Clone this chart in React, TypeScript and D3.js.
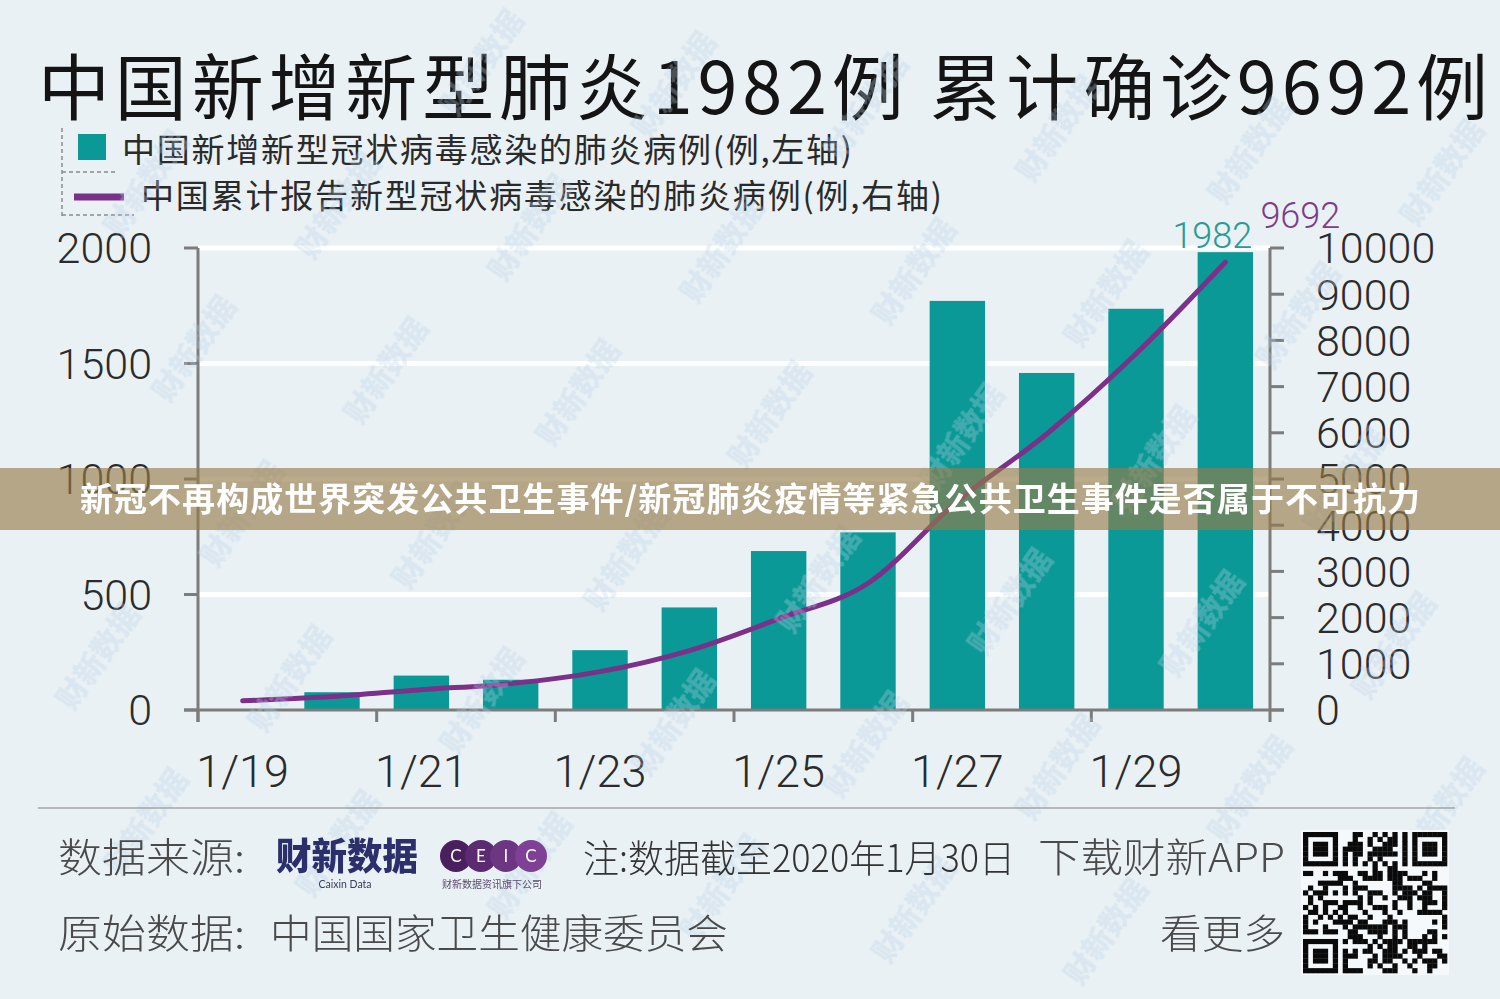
import React, { useMemo } from "react";
import * as d3 from "d3";

// Daily data, 19–30 January 2020
const dates = ["1/19", "1/20", "1/21", "1/22", "1/23", "1/24", "1/25", "1/26", "1/27", "1/28", "1/29", "1/30"];
const newCases: (number | null)[] = [null, 77, 149, 131, 259, 444, 688, 769, 1771, 1459, 1737, 1982];
const cumulativeCases = [198, 291, 440, 571, 830, 1287, 1975, 2744, 4515, 5974, 7711, 9692];

const leftTicks = [0, 500, 1000, 1500, 2000];
const rightTicks = [0, 1000, 2000, 3000, 4000, 5000, 6000, 7000, 8000, 9000, 10000];
const xTickLabels = ["1/19", "1/21", "1/23", "1/25", "1/27", "1/29"];

const W = 1500;
const H = 999;
const CJK = "'Noto Sans CJK SC', 'Noto Sans', sans-serif";
const NUM = "Roboto, 'Liberation Sans', sans-serif";
const BG = "#e9f1f5";
const TEAL = "#0a9996";
const PURPLE = "#7b3089";
const AXIS = "#7c7c7c";

// Pseudo QR pattern, deterministic
function qrModules(n: number): boolean[][] {
  let s = 20200130;
  const next = () => {
    s = (s * 1103515245 + 12345) % 2147483648;
    return s / 2147483648;
  };
  const m: boolean[][] = [];
  for (let r = 0; r < n; r++) {
    m.push([]);
    for (let c = 0; c < n; c++) m[r].push(next() < 0.5);
  }
  const finder = (r0: number, c0: number) => {
    for (let r = -1; r <= 7; r++)
      for (let c = -1; c <= 7; c++) {
        const rr = r0 + r, cc = c0 + c;
        if (rr < 0 || cc < 0 || rr >= n || cc >= n) continue;
        const inRing = r >= 0 && r <= 6 && c >= 0 && c <= 6;
        const edge = r === 0 || r === 6 || c === 0 || c === 6;
        const core = r >= 2 && r <= 4 && c >= 2 && c <= 4;
        m[rr][cc] = inRing && (edge || core);
      }
  };
  finder(0, 0);
  finder(0, n - 7);
  finder(n - 7, 0);
  for (let i = 8; i < n - 8; i++) {
    m[6][i] = i % 2 === 0;
    m[i][6] = i % 2 === 0;
  }
  return m;
}

export default function App() {
  const x = useMemo(() => d3.scaleBand<string>().domain(dates).range([198, 1270]).padding(0), []);
  const yL = useMemo(() => d3.scaleLinear().domain([0, 2000]).range([710, 248]), []);
  const yR = useMemo(() => d3.scaleLinear().domain([0, 10000]).range([710, 248]), []);
  const barW = x.bandwidth() * 0.62;
  const cx = (d: string) => (x(d) as number) + x.bandwidth() / 2;

  const linePath = d3
    .line<number>()
    .x((_, i) => cx(dates[i]))
    .y((v) => yR(v))
    .curve(d3.curveMonotoneX)(cumulativeCases) as string;

  const lastIdx = dates.length - 1;
  const lastDate = dates[lastIdx];

  // watermark lattice, kept inside the canvas
  const marks: { x: number; y: number }[] = [];
  for (let j = -3; j < 9; j++) {
    for (let i = -2; i < 10; i++) {
      const px = 100 + 192 * i + 48 * j;
      const py = 20 + 22 * i + 165 * j;
      if (px > 55 && px < W - 55 && py > 60 && py < H - 60) marks.push({ x: px, y: py });
    }
  }

  const qrN = 29;
  const qr = qrModules(qrN);
  const qrX = 1303, qrY = 832, qrS = 144 / qrN;

  return (
    <svg
      width={W}
      height={H}
      viewBox={`0 0 ${W} ${H}`}
      style={{ position: "absolute", left: 0, top: 0, display: "block" }}
    >
      <rect x={0} y={0} width={W} height={H} fill={BG} />

      {/* gridlines */}
      {leftTicks.slice(1).map((t) => (
        <line key={"g" + t} x1={198} x2={1270} y1={yL(t)} y2={yL(t)} stroke="#ffffff" strokeWidth={5} />
      ))}

      {/* title */}
      <text x={38} y={114} fontFamily={CJK} fontSize={72} fill="#141414" textLength={1450} lengthAdjust="spacing">
        中国新增新型肺炎1982例 累计确诊9692例
      </text>

      {/* legend */}
      <g>
        <line x1={62} x2={62} y1={128} y2={216} stroke="#8a8a8a" strokeWidth={1.5} strokeDasharray="4 3" />
        <line x1={62} x2={116} y1={172} y2={172} stroke="#8a8a8a" strokeWidth={1.5} strokeDasharray="4 3" />
        <line x1={62} x2={134} y1={215} y2={215} stroke="#8a8a8a" strokeWidth={1.5} strokeDasharray="4 3" />
        <rect x={78} y={134} width={28} height={26} fill={TEAL} />
        <text x={122} y={162} fontFamily={CJK} fontSize={33} fill="#2a2a2a" textLength={730} lengthAdjust="spacing">
          中国新增新型冠状病毒感染的肺炎病例(例,左轴)
        </text>
        <line x1={74} x2={124} y1={197} y2={197} stroke={PURPLE} strokeWidth={7} />
        <text x={141} y={208} fontFamily={CJK} fontSize={33} fill="#2a2a2a" textLength={801} lengthAdjust="spacing">
          中国累计报告新型冠状病毒感染的肺炎病例(例,右轴)
        </text>
      </g>

      {/* bars */}
      {dates.map((d, i) =>
        newCases[i] == null ? null : (
          <rect
            key={"b" + d}
            x={cx(d) - barW / 2}
            y={yL(newCases[i] as number)}
            width={barW}
            height={yL(0) - yL(newCases[i] as number)}
            fill={TEAL}
          />
        )
      )}

      {/* cumulative line */}
      <path d={linePath} fill="none" stroke={PURPLE} strokeWidth={5} strokeLinecap="round" />

      {/* axes */}
      <line x1={198} x2={198} y1={yL(2000)} y2={722} stroke={AXIS} strokeWidth={3} />
      <line x1={1270} x2={1270} y1={yR(10000)} y2={722} stroke={AXIS} strokeWidth={3} />
      <line x1={184} x2={1284} y1={yL(0)} y2={yL(0)} stroke={AXIS} strokeWidth={3} />
      {leftTicks.map((t) => (
        <line key={"lt" + t} x1={184} x2={198} y1={yL(t)} y2={yL(t)} stroke={AXIS} strokeWidth={3} />
      ))}
      {rightTicks.map((t) => (
        <line key={"rt" + t} x1={1270} x2={1284} y1={yR(t)} y2={yR(t)} stroke={AXIS} strokeWidth={3} />
      ))}
      {dates.map((d, i) =>
        i % 2 === 0 ? (
          <line key={"xt" + d} x1={x(d)} x2={x(d)} y1={yL(0)} y2={722} stroke={AXIS} strokeWidth={3} />
        ) : null
      )}

      {/* axis labels */}
      {leftTicks.map((t) => (
        <text key={"ll" + t} x={152} y={yL(t)} dy="0.36em" textAnchor="end" fontFamily={NUM} fontWeight={300} fontSize={43} fill="#2b2b2b">
          {t}
        </text>
      ))}
      {rightTicks.map((t) => (
        <text key={"rl" + t} x={1316} y={yR(t)} dy="0.36em" textAnchor="start" fontFamily={NUM} fontWeight={300} fontSize={43} fill="#2b2b2b">
          {t}
        </text>
      ))}
      {xTickLabels.map((d) => (
        <text key={"xl" + d} x={cx(d)} y={787} textAnchor="middle" fontFamily={NUM} fontWeight={300} fontSize={45} fill="#2b2b2b">
          {d}
        </text>
      ))}

      {/* value labels */}
      <text x={cx(lastDate) - 13} y={yL(newCases[lastIdx] as number) - 4} textAnchor="middle" fontFamily={NUM} fontWeight={300} fontSize={36} fill="#2a9a96">
        {newCases[lastIdx]}
      </text>
      <text x={cx(lastDate) + 75} y={yR(cumulativeCases[lastIdx]) - 34} textAnchor="middle" fontFamily={NUM} fontWeight={300} fontSize={36} fill="#7d3c8c">
        {cumulativeCases[lastIdx]}
      </text>

      {/* watermark */}
      <g opacity={0.32}>
        {marks.map((p, k) => (
          <text
            key={"wm" + k}
            transform={`translate(${p.x},${p.y}) rotate(-55)`}
            textAnchor="middle"
            dominantBaseline="middle"
            fontFamily={CJK}
            fontWeight={900}
            fontSize={30}
            fill="#bcd2e6"
          >
            财新数据
          </text>
        ))}
      </g>

      {/* banner */}
      <rect x={0} y={468} width={W} height={62} fill="rgb(150,124,72)" opacity={0.64} />
      <text x={80} y={511} fontFamily={CJK} fontWeight={700} fontSize={33} fill="#ffffff" textLength={1340} lengthAdjust="spacing">
        新冠不再构成世界突发公共卫生事件/新冠肺炎疫情等紧急公共卫生事件是否属于不可抗力
      </text>

      {/* footer */}
      <line x1={38} x2={1455} y1={808} y2={808} stroke="#a5a5a5" strokeWidth={1.5} />
      <text x={58} y={872} fontFamily={CJK} fontWeight={300} fontSize={40} fill="#4a4a4a" textLength={187} lengthAdjust="spacingAndGlyphs">
        数据来源:
      </text>
      <text x={276} y={870} fontFamily={CJK} fontWeight={900} fontSize={37} fill="#2b2f6b" textLength={142} lengthAdjust="spacingAndGlyphs">
        财新数据
      </text>
      <text x={345} y={888} textAnchor="middle" fontFamily="Lato, sans-serif" fontSize={10.5} fill="#3a3a5a">
        Caixin Data
      </text>
      {["C", "E", "I", "C"].map((ch, i) => {
        const col = d3.interpolateRgb("#4a1f5e", "#7e4195")(i / 3);
        return (
          <g key={"ceic" + i}>
            <circle cx={456 + i * 25} cy={856} r={16} fill={col} />
            <text x={456 + i * 25} y={856} dy="0.36em" textAnchor="middle" fontFamily="Lato, sans-serif" fontSize={17} fill="#ffffff">
              {ch}
            </text>
          </g>
        );
      })}
      <text x={492} y={888} textAnchor="middle" fontFamily={CJK} fontSize={10} fill="#5a4a6a">
        财新数据资讯旗下公司
      </text>
      <text x={583} y={872} fontFamily={CJK} fontWeight={300} fontSize={38} fill="#333333" textLength={432} lengthAdjust="spacingAndGlyphs">
        注:数据截至2020年1月30日
      </text>
      <text x={1038} y={872} fontFamily={CJK} fontWeight={300} fontSize={40} fill="#4a4a4a" textLength={247} lengthAdjust="spacingAndGlyphs">
        下载财新APP
      </text>
      <text x={58} y={948} fontFamily={CJK} fontWeight={300} fontSize={40} fill="#4a4a4a" textLength={187} lengthAdjust="spacingAndGlyphs">
        原始数据:
      </text>
      <text x={270} y={948} fontFamily={CJK} fontWeight={300} fontSize={40} fill="#4a4a4a" textLength={458} lengthAdjust="spacingAndGlyphs">
        中国国家卫生健康委员会
      </text>
      <text x={1160} y={948} fontFamily={CJK} fontWeight={300} fontSize={40} fill="#4a4a4a" textLength={125} lengthAdjust="spacingAndGlyphs">
        看更多
      </text>

      {/* QR code */}
      <rect x={qrX - 2} y={qrY - 2} width={148} height={145} fill="#ffffff" opacity={0.6} />
      {qr.map((row, r) =>
        row.map((on, c) =>
          on ? (
            <rect key={`q${r}-${c}`} x={qrX + c * qrS} y={qrY + r * (141 / qrN)} width={qrS + 0.3} height={141 / qrN + 0.3} fill="#0a0a0a" />
          ) : null
        )
      )}
    </svg>
  );
}
